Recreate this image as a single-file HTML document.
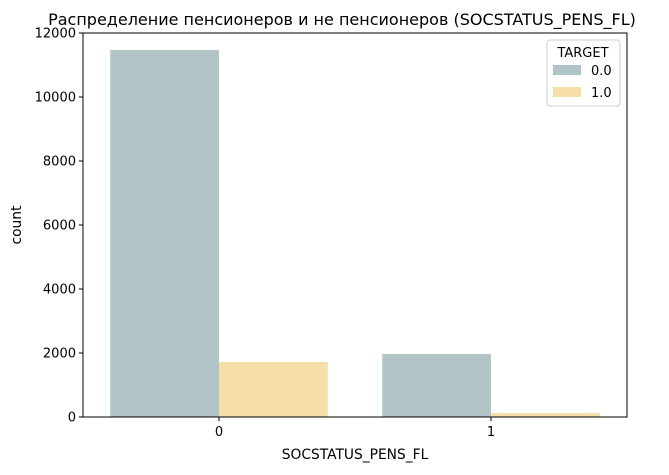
<!DOCTYPE html>
<html><head><meta charset="utf-8"><style>
body{margin:0;background:#fff;font-family:"Liberation Sans","DejaVu Sans",sans-serif}
</style></head><body>
<svg id="chart" width="669" height="470" xmlns="http://www.w3.org/2000/svg" font-family="DejaVu Sans, Liberation Sans, sans-serif"></svg>
<script>
const categories=["0","1"];
const series00=[11469,1969];
const series10=[1719,125];
const seriesNames=["0.0","1.0"];
const yTicks=[0,2000,4000,6000,8000,10000,12000];
const colors=["#b0c4c5","#f5dea9"];
const L=83,R=627,T=33,B=417,yMax=12000;
const svg=document.getElementById('chart');
const NS="http://www.w3.org/2000/svg";
function xS(i){return L+(i+0.5)*(R-L)/2;}
function yS(v){return B-v*(B-T)/yMax;}
function mk(t,a,txt){const e=document.createElementNS(NS,t);for(const k in a)e.setAttribute(k,a[k]);if(txt!==undefined)e.textContent=txt;svg.appendChild(e);return e;}
const bw=0.4*(R-L)/2;
[series00,series10].forEach((s,si)=>{s.forEach((v,i)=>{
 const x=xS(i)-bw+si*bw;
 const r=mk('rect',{x:x,y:yS(v),width:bw,height:B-yS(v),fill:colors[si]});
 
 
});});
const frame=mk('rect',{x:L,y:T,width:R-L,height:B-T,fill:'none',stroke:'#000','stroke-width':1});

yTicks.forEach(v=>{
 const tl=mk('line',{x1:L-4,x2:L,y1:yS(v),y2:yS(v),stroke:'#000'});
 
 const t=mk('text',{x:L-7,y:yS(v)+4.5,'text-anchor':'end','font-size':13},v);
 
});
categories.forEach((c,i)=>{
 const tl=mk('line',{x1:xS(i),x2:xS(i),y1:B,y2:B+4,stroke:'#000'});
 
 const t=mk('text',{x:xS(i),y:B+19,'text-anchor':'middle','font-size':13},c);
 
});
let e=mk('text',{x:355,y:459,'text-anchor':'middle','font-size':13.8},'SOCSTATUS_PENS_FL');

e=mk('text',{x:21,y:225,'text-anchor':'middle','font-size':13.8,transform:'rotate(-90 21 225)'},'count');

e=mk('text',{x:342,y:25,'text-anchor':'middle','font-size':16},'Распределение пенсионеров и не пенсионеров (SOCSTATUS_PENS_FL)');

e=mk('rect',{x:547,y:40,width:73,height:66,rx:3,fill:'#fff',stroke:'#ccc'});

e=mk('text',{x:583,y:57,'text-anchor':'middle','font-size':13},'TARGET');

seriesNames.forEach((n,i)=>{
 const r=mk('rect',{x:553,y:65+i*22,width:28,height:10,fill:colors[i]});
 
 const t=mk('text',{x:591,y:75+i*22,'font-size':13},n);
 
});
</script>
</body></html>
